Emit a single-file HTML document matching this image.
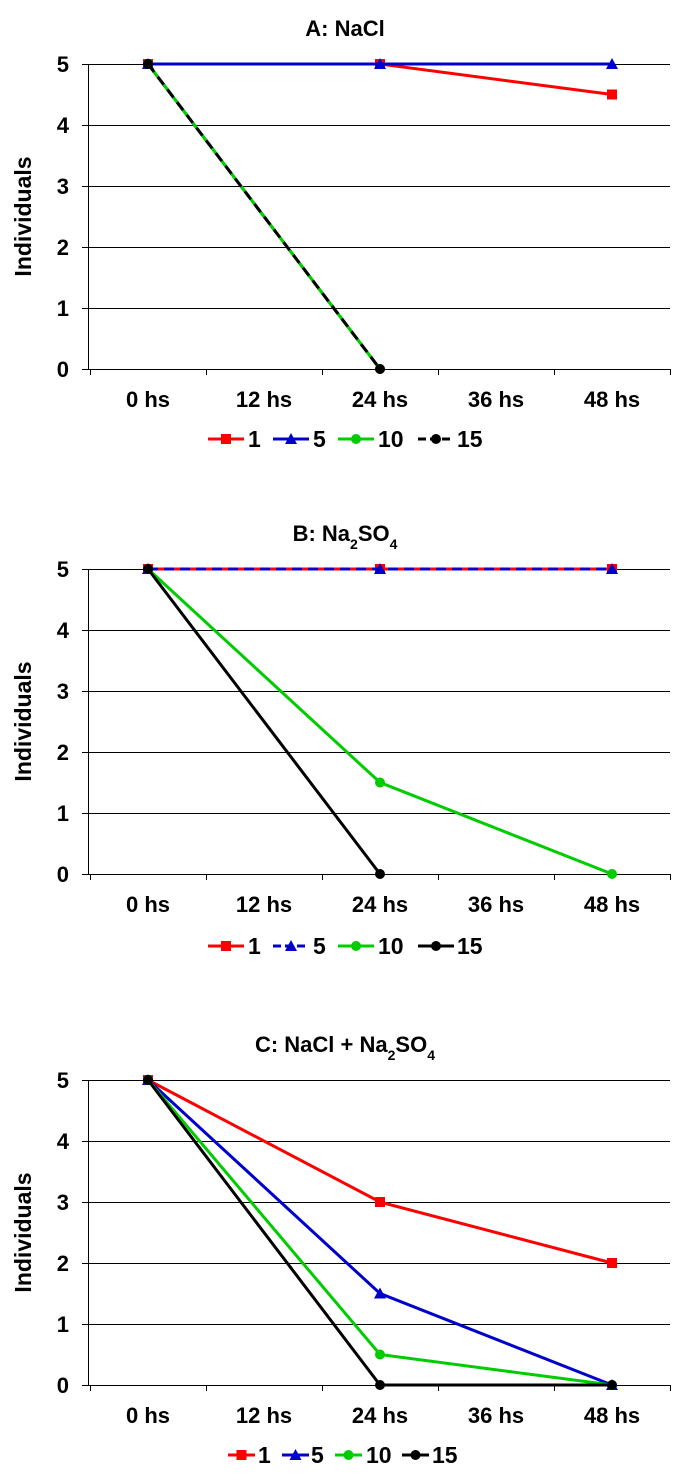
<!DOCTYPE html>
<html><head><meta charset="utf-8"><style>
body{margin:0;background:#fff;}
svg{display:block;font-family:"Liberation Sans",Arial,sans-serif;font-weight:bold;}
</style></head><body>
<svg id="s" width="687" height="1484"></svg>
<script>
const categories=["0 hs","12 hs","24 hs","36 hs","48 hs"];
const yTicks=[0,1,2,3,4,5];
const seriesNames=["1","5","10","15"];
const colors=["#ff0000","#0000cc","#00cc00","#000000"];
const aVals=[[5,null,5,null,4.5],[5,null,5,null,5],[5,null,0,null,null],[5,null,0,null,null]];
const bVals=[[5,null,5,null,5],[5,null,5,null,5],[5,null,1.5,null,0],[5,null,0,null,null]];
const cVals=[[5,null,3,null,2],[5,null,1.5,null,0],[5,null,0.5,null,0],[5,null,0,null,0]];
const panels=[
 {title:"A: NaCl",top:64,vals:aVals,dash:[null,null,null,"10,6"],leg:{y:439,lines:[208,273,338,418],w:36,text:[248,313,378,457]}},
 {title:"B: Na<tspan baseline-shift='sub' font-size='14'>2</tspan>SO<tspan baseline-shift='sub' font-size='14'>4</tspan>",top:569,vals:bVals,dash:[null,"10,6",null,null],leg:{y:946,lines:[208,273,338,418],w:36,text:[248,313,378,457]}},
 {title:"C: NaCl + Na<tspan baseline-shift='sub' font-size='14'>2</tspan>SO<tspan baseline-shift='sub' font-size='14'>4</tspan>",top:1080,vals:cVals,dash:[null,null,null,null],leg:{y:1455,lines:[228,282,335,402],w:27,text:[258,311,366,432]}}
];
const NS="http://www.w3.org/2000/svg";
const svg=document.getElementById("s");
function mk(t,a,p){const e=document.createElementNS(NS,t);for(const k in a)e.setAttribute(k,a[k]);(p||svg).appendChild(e);return e;}
const L=88,R=670,H=305;
function xS(i){return L+2+(R-L-2)/categories.length*(i+0.5);}
function marker(g,k,x,y,c){
 if(k===0)return mk("rect",{x:x-5,y:y-5,width:10,height:10,fill:c},g);
 if(k===1)return mk("polygon",{points:`${x},${y-6} ${x+6},${y+5} ${x-6},${y+5}`,fill:c},g);
 return mk("circle",{cx:x,cy:y,r:5,fill:c},g);
}
panels.forEach((p,pi)=>{
 const g=mk("g",{});
 
 
 const yS=v=>p.top+H-v/5*H;
 const t=mk("text",{x:345,y:p.top-28,"text-anchor":"middle","font-size":22},g);t.innerHTML=p.title;
 
 yTicks.forEach(v=>{
  const yy=Math.round(yS(v))+0.5;
  const l=mk("line",{x1:82,x2:R,y1:yy,y2:yy,stroke:"#000","stroke-width":1},g);
  
  const tx=mk("text",{x:69,y:yS(v)+8,"text-anchor":"end","font-size":22},g);tx.textContent=v;
  
 });
 mk("line",{x1:L+0.5,x2:L+0.5,y1:p.top,y2:p.top+H,stroke:"#000"},g);
 const cw=(R-L-2)/categories.length;
 for(let i=0;i<=categories.length;i++){const xx=Math.round(L+2+cw*i)+0.5;mk("line",{x1:xx,x2:xx,y1:p.top+H,y2:p.top+H+6,stroke:"#000"},g);}
 categories.forEach((c,i)=>{const tx=mk("text",{x:xS(i),y:p.top+H+38,"text-anchor":"middle","font-size":22},g);tx.textContent=c;
  });
 const yl=mk("text",{transform:`translate(31,${p.top+H/2}) rotate(-90)`,"text-anchor":"middle","font-size":23},g);yl.textContent="Individuals";
 
 p.vals.forEach((vals,k)=>{
  const pts=[];vals.forEach((v,i)=>{if(v!==null)pts.push([xS(i),yS(v)]);});
  const sg=mk("g",{},g);
  
  if(p.dash[k]){
   const under=k===3?colors[2]:colors[0];
   mk("polyline",{points:pts.map(q=>q.join(",")).join(" "),fill:"none",stroke:under,"stroke-width":3},sg);
  }
  const a={points:pts.map(q=>q.join(",")).join(" "),fill:"none",stroke:colors[k],"stroke-width":3};
  if(p.dash[k])a["stroke-dasharray"]=p.dash[k];
  mk("polyline",a,sg);
  pts.forEach(q=>marker(sg,k,q[0],q[1],colors[k]));
 });
 const lg=mk("g",{},g);
 
 seriesNames.forEach((n,k)=>{
  const x0=p.leg.lines[k],y=p.leg.y;
  const e=mk("g",{},lg);
  
  const a={x1:x0,x2:x0+p.leg.w,y1:y,y2:y,stroke:colors[k],"stroke-width":3};
  if(p.dash[k])a["stroke-dasharray"]="8,4";
  mk("line",a,e);
  marker(e,k,x0+p.leg.w/2,y,colors[k]);
  const tx=mk("text",{x:p.leg.text[k],y:y+8,"font-size":23},e);tx.textContent=n;
 });
});
</script>
</body></html>
